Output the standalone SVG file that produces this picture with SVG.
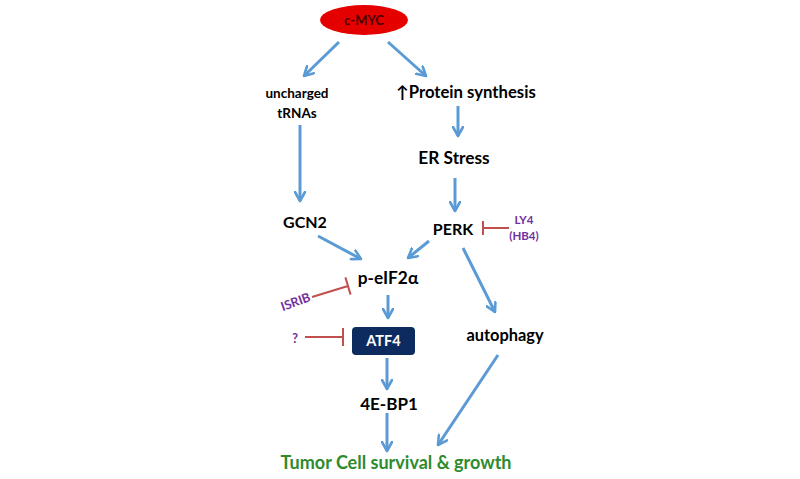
<svg xmlns="http://www.w3.org/2000/svg" width="800" height="479" viewBox="0 0 800 479">
<defs>
<marker id="ah" viewBox="0 0 12 12" refX="10" refY="6" markerWidth="12" markerHeight="12" markerUnits="userSpaceOnUse" orient="auto">
<path d="M1,1 L10,6 L1,11" fill="none" stroke="#5B9BD5" stroke-width="2.6" stroke-linecap="round" stroke-linejoin="round"/>
</marker>
</defs>
<style>
text{font-family:Lato,"Open Sans","Liberation Sans",sans-serif;font-weight:bold;text-anchor:middle}
.blk{fill:#000}
.pur{fill:#7030A0;font-size:11.5px}
.arr{stroke:#5B9BD5;stroke-width:3;fill:none;marker-end:url(#ah)}
.inh{stroke:#C0504D;stroke-width:2;fill:none}
</style>
<rect width="800" height="479" fill="#fff"/>
<g id="connectors">
<line class="arr" x1="339" y1="42" x2="304" y2="76"/>
<line class="arr" x1="388" y1="42" x2="426" y2="76"/>
<line class="arr" x1="458" y1="106" x2="458" y2="136"/>
<line class="arr" x1="300" y1="125" x2="300" y2="201"/>
<line class="arr" x1="455" y1="178" x2="455" y2="211"/>
<line class="arr" x1="318" y1="236" x2="361" y2="259"/>
<line class="arr" x1="429" y1="241" x2="408" y2="258"/>
<line class="arr" x1="463" y1="248" x2="495" y2="312"/>
<line class="arr" x1="388" y1="295" x2="388" y2="318"/>
<line class="arr" x1="387" y1="358" x2="387" y2="389"/>
<line class="arr" x1="387" y1="413" x2="387" y2="451"/>
<line class="arr" x1="498" y1="355" x2="438" y2="445"/>
<path class="inh" d="M509,228 H483 M483,221 V235"/>
<path class="inh" d="M312,297 L348,286 M345.4,277.4 L350.6,294.6"/>
<path class="inh" d="M305,337 H343 M343,328 V346"/>
</g>
<g id="cmyc">
<ellipse cx="364" cy="20" rx="44" ry="15" fill="#E50000"/>
<text x="364" y="25" style="font-size:13px;fill:#4a0000">c-MYC</text>
</g>
<g id="tRNAs">
<text class="blk" x="297" y="98" style="font-size:13.5px">uncharged</text>
<text class="blk" x="297" y="118" style="font-size:13.5px">tRNAs</text>
</g>
<g id="protein">
<text class="blk" x="466" y="98" style="font-size:16.7px">↑Protein synthesis</text>
</g>
<g id="er">
<text class="blk" x="454" y="164" style="font-size:17.3px">ER Stress</text>
</g>
<g id="gcn2">
<text class="blk" x="305" y="228" style="font-size:16px">GCN2</text>
</g>
<g id="perk">
<text class="blk" x="453" y="235" style="font-size:16px">PERK</text>
</g>
<g id="ly4">
<text class="pur" x="524" y="224">LY4</text>
<text class="pur" x="524" y="240">(HB4)</text>
</g>
<g id="peif">
<text class="blk" x="388" y="284" style="font-size:17.3px">p-eIF2α</text>
</g>
<g id="isrib">
<text class="pur" transform="translate(297,306) rotate(-20)" style="font-size:12.5px">ISRIB</text>
</g>
<g id="q">
<text class="pur" x="295" y="343" style="font-size:12.5px">?</text>
</g>
<g id="atf4">
<rect x="352" y="327" width="63" height="28" rx="4" fill="#0D2B5E"/>
<text x="383.5" y="346" style="font-size:14.5px;fill:#fff">ATF4</text>
</g>
<g id="autophagy">
<text class="blk" x="505" y="341" style="font-size:16.4px">autophagy</text>
</g>
<g id="ebp1">
<text class="blk" x="389" y="410" style="font-size:17px">4E-BP1</text>
</g>
<g id="tumor">
<text x="396" y="469" style="font-size:18px;fill:#2E8B2E">Tumor Cell survival &amp; growth</text>
</g>
</svg>
